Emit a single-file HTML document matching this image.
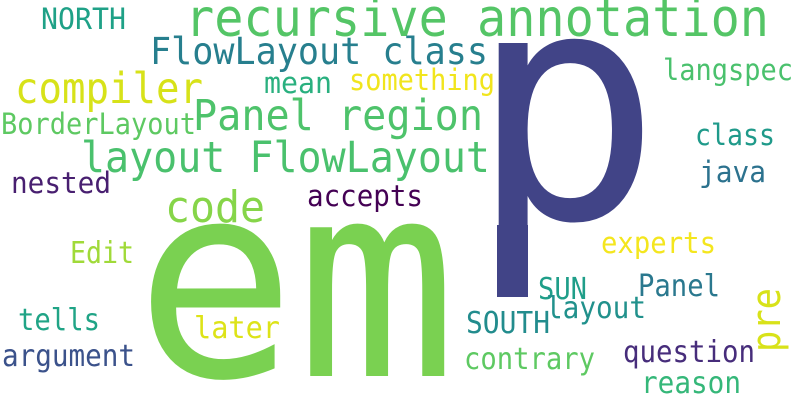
<!DOCTYPE html>
<html><head><meta charset="utf-8"><style>
html,body{margin:0;padding:0;background:#fff;width:800px;height:400px;overflow:hidden;}
svg{display:block}
text{font-family:"DejaVu Sans Mono","Liberation Mono",monospace;}
</style></head><body>
<svg width="800" height="400" viewBox="0 0 800 400" xmlns="http://www.w3.org/2000/svg">
<rect width="800" height="400" fill="#fff"/>
<text x="469" y="218" font-size="320" fill="#414487">p</text>
<rect x="497" y="225" width="31" height="72" fill="#414487"/>
<text x="135" y="376" font-size="272" fill="#7ad151" textLength="322" lengthAdjust="spacingAndGlyphs">em</text>
<text x="185" y="36" font-size="52" fill="#54c566" textLength="584" lengthAdjust="spacingAndGlyphs">recursive annotation</text>
<text x="41" y="29" font-size="29" fill="#1fa187" textLength="85" lengthAdjust="spacingAndGlyphs">NORTH</text>
<text x="150" y="64" font-size="37" fill="#277f8e" textLength="338" lengthAdjust="spacingAndGlyphs">FlowLayout class</text>
<text x="15" y="103" font-size="43" fill="#d7e219" textLength="188" lengthAdjust="spacingAndGlyphs">compiler</text>
<text x="264" y="93" font-size="29" fill="#2ab07f" textLength="68" lengthAdjust="spacingAndGlyphs">mean</text>
<text x="349" y="90" font-size="29" fill="#f1e51d" textLength="146" lengthAdjust="spacingAndGlyphs">something</text>
<text x="193" y="130" font-size="43" fill="#4ec36b" textLength="290" lengthAdjust="spacingAndGlyphs">Panel region</text>
<text x="1" y="134" font-size="29" fill="#5ec962" textLength="195" lengthAdjust="spacingAndGlyphs">BorderLayout</text>
<text x="81" y="172" font-size="43" fill="#4ac16d" textLength="409" lengthAdjust="spacingAndGlyphs">layout FlowLayout</text>
<text x="11" y="193" font-size="29" fill="#481f70" textLength="100" lengthAdjust="spacingAndGlyphs">nested</text>
<text x="307" y="206" font-size="29" fill="#440154" textLength="116" lengthAdjust="spacingAndGlyphs">accepts</text>
<text x="165" y="222" font-size="44" fill="#86d549" textLength="100" lengthAdjust="spacingAndGlyphs">code</text>
<text x="663" y="80" font-size="29" fill="#4ac16d" textLength="130" lengthAdjust="spacingAndGlyphs">langspec</text>
<text x="695" y="145" font-size="29" fill="#1f9a8a" textLength="80" lengthAdjust="spacingAndGlyphs">class</text>
<text x="699" y="182" font-size="29" fill="#2c728e" textLength="67" lengthAdjust="spacingAndGlyphs">java</text>
<text x="70" y="263" font-size="30" fill="#a0da39" textLength="64" lengthAdjust="spacingAndGlyphs">Edit</text>
<text x="601" y="253" font-size="29" fill="#f4e61e" textLength="115" lengthAdjust="spacingAndGlyphs">experts</text>
<text x="538" y="299" font-size="30" fill="#1f9e89" textLength="49" lengthAdjust="spacingAndGlyphs">SUN</text>
<text x="638" y="296" font-size="30" fill="#2a788e" textLength="82" lengthAdjust="spacingAndGlyphs">Panel</text>
<text transform="translate(780,352) rotate(-90)" font-size="40" fill="#d8e219" textLength="64" lengthAdjust="spacingAndGlyphs">pre</text>
<text x="546" y="318" font-size="30" fill="#21918c" textLength="100" lengthAdjust="spacingAndGlyphs">layout</text>
<text x="466" y="333" font-size="30" fill="#228c8d" textLength="84" lengthAdjust="spacingAndGlyphs">SOUTH</text>
<text x="18" y="330" font-size="30" fill="#20a486" textLength="82" lengthAdjust="spacingAndGlyphs">tells</text>
<text x="194" y="338" font-size="30" fill="#dde318" textLength="86" lengthAdjust="spacingAndGlyphs">later</text>
<text x="2" y="366" font-size="30" fill="#3b528b" textLength="133" lengthAdjust="spacingAndGlyphs">argument</text>
<text x="464" y="369" font-size="30" fill="#5ec962" textLength="131" lengthAdjust="spacingAndGlyphs">contrary</text>
<text x="623" y="362" font-size="30" fill="#472d7b" textLength="132" lengthAdjust="spacingAndGlyphs">question</text>
<text x="641" y="393" font-size="30" fill="#35b779" textLength="100" lengthAdjust="spacingAndGlyphs">reason</text>
</svg>
</body></html>
